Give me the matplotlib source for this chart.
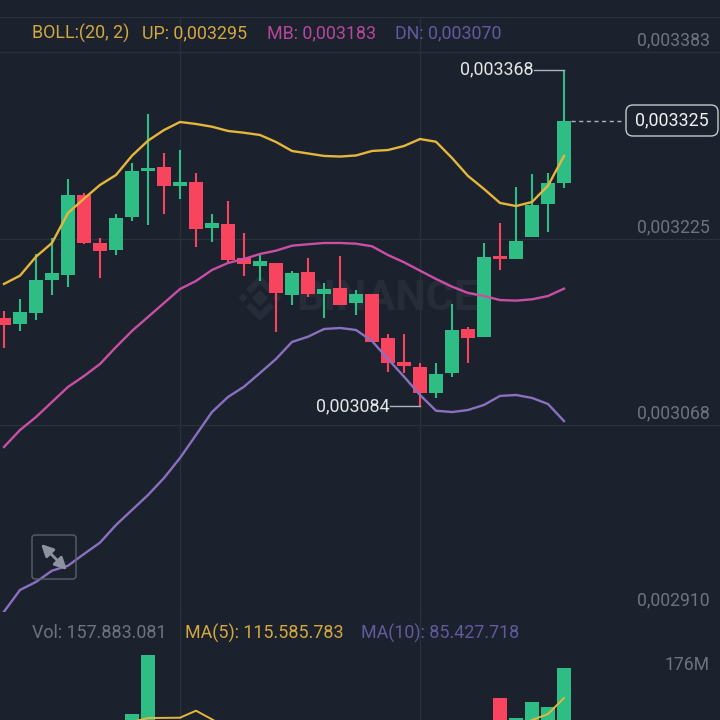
import matplotlib
matplotlib.use('Agg')
import matplotlib.pyplot as plt
from matplotlib.patches import FancyBboxPatch, Polygon
from matplotlib.transforms import Affine2D

plt.rcParams['font.family'] = ['Roboto', 'DejaVu Sans']

# Prices in millionths, one entry per candle
opens = [3158.1, 3153.3, 3162.8, 3190.4, 3194.7, 3262.5, 3221.4, 3215.8, 3243.6, 3282.5, 3285.9, 3269.8,
         3273.5, 3234.4, 3237.7, 3209.3, 3202.5, 3204.8, 3177.8, 3197.4, 3178.6, 3183.7, 3171.3, 3178.6,
         3141.4, 3121.2, 3117.2, 3095.0, 3112.1, 3149.0, 3142.5, 3210.7, 3208.4, 3226.7, 3254.6, 3272.6]
highs = [3164.2, 3174.4, 3212.4, 3225.9, 3275.7, 3263.9, 3225.9, 3246.2, 3289.2, 3330.6, 3297.7, 3300.2,
         3280.8, 3246.2, 3257.2, 3230.1, 3211.5, 3204.8, 3198.3, 3209.0, 3187.9, 3210.7, 3182.0, 3178.6,
         3144.8, 3144.8, 3120.3, 3120.3, 3170.2, 3150.7, 3221.7, 3238.8, 3269.0, 3280.0, 3281.1, 3368.0]
lows = [3133.0, 3147.4, 3156.6, 3177.8, 3184.5, 3220.8, 3192.4, 3211.5, 3240.5, 3236.9, 3246.4, 3258.8,
        3218.3, 3222.5, 3205.0, 3193.8, 3189.6, 3146.8, 3169.3, 3176.3, 3158.6, 3169.3, 3160.9, 3138.3,
        3113.0, 3112.1, 3084.0, 3091.0, 3108.8, 3120.3, 3142.5, 3198.9, 3208.4, 3226.7, 3231.2, 3268.1]
closes = [3152.4, 3163.4, 3190.4, 3196.3, 3262.5, 3221.4, 3215.2, 3242.8, 3282.5, 3285.0, 3269.8, 3273.5,
          3233.5, 3238.6, 3207.3, 3204.0, 3206.5, 3179.5, 3196.3, 3178.6, 3183.1, 3169.3, 3178.6, 3138.3,
          3120.3, 3118.1, 3095.2, 3111.0, 3148.2, 3141.4, 3210.1, 3208.2, 3223.4, 3253.8, 3272.6, 3325.0]

boll_up = [3187.1, 3194.1, 3210.1, 3221.7, 3247.0, 3259.1, 3270.7, 3279.1, 3295.4, 3308.1, 3317.1, 3323.9,
           3322.2, 3319.9, 3316.3, 3314.8, 3312.9, 3307.0, 3299.4, 3297.3, 3295.2, 3294.7, 3295.6, 3299.4,
           3300.2, 3303.6, 3309.5, 3307.2, 3293.5, 3278.3, 3267.3, 3255.5, 3252.9, 3256.3, 3270.1, 3295.2]
boll_mb = [3049.4, 3063.7, 3074.7, 3087.4, 3100.1, 3109.3, 3119.5, 3133.8, 3147.4, 3159.2, 3171.0, 3182.8,
           3189.6, 3198.9, 3204.8, 3208.2, 3212.4, 3215.2, 3219.4, 3220.6, 3221.7, 3221.7, 3221.1, 3218.9,
           3211.5, 3205.4, 3198.3, 3191.3, 3184.8, 3179.5, 3176.9, 3173.5, 3173.0, 3174.1, 3176.9, 3183.1]
boll_dn = [2910.3, 2928.6, 2935.4, 2944.9, 2949.1, 2959.0, 2968.6, 2983.5, 2996.2, 3008.8, 3023.2, 3040.1,
           3059.5, 3078.9, 3091.6, 3100.3, 3111.9, 3123.7, 3138.1, 3142.5, 3149.0, 3149.9, 3148.2, 3138.9,
           3123.7, 3108.8, 3093.3, 3080.0, 3078.9, 3080.6, 3084.9, 3092.5, 3093.3, 3090.8, 3085.7, 3071.3]

# Only the volume bars that reach into the visible strip (millions)
vol_idx = [8, 9, 31, 32, 33, 34, 35]
vol_vals = [93.0, 176.2, 115.2, 87.8, 109.5, 102.5, 157.9]
ma5_left_idx = [8, 9, 10, 11, 12, 13, 14]
ma5_left = [82.0, 87.4, 87.6, 87.8, 97.7, 85.5, 73.0]
ma5_right_idx = [32, 33, 34, 35]
ma5_right = [73.5, 84.6, 93.0, 115.6]

price_ticks = [3383, 3225.3, 3067.7, 2910]
price_tick_labels = ['0,003383', '0,003225', '0,003068', '0,002910']
grid_idx = [11, 26]

BG = '#1b222d'
GRID = '#2a313c'
GREEN = '#2ebd85'
RED = '#f9445f'
YELLOW = '#e6b63c'
PINK = '#c94fa5'
PURPLE = '#8a70c0'
GREY = '#6d7480'

fig = plt.figure(figsize=(7.2, 7.2), dpi=100, facecolor=BG)
# transform for things placed by screen position (y going down)
px = Affine2D().scale(1 / 720, -1 / 720).translate(0, 1) + fig.transFigure


def put_text(x, y, s, color, size=12.9, ha='left'):
    fig.text(x / 720, 1 - y / 720, s, color=color, fontsize=size, ha=ha, va='center')


# Main candle panel
ax = fig.add_axes([0, 108 / 720, 1, 595 / 720], facecolor=BG)
ax.set_xlim(-0.25, 44.75)
ax.set_ylim(2910, 3383 + 35 * 0.8446)
ax.set_xticks(grid_idx)
ax.set_yticks(price_ticks)
ax.tick_params(length=0, labelbottom=False, labelleft=False)
ax.grid(True, color=GRID, linewidth=1)
ax.set_axisbelow(True)
for side in ['left', 'right']:
    ax.spines[side].set_visible(False)
for side in ['top', 'bottom']:
    ax.spines[side].set_color(GRID)

# Watermark
WM = '#272d38'
cx, cy = 260, 298
logo = [
    [(0, -8), (8, 0), (0, 8), (-8, 0)],
    [(-17, -4.5), (-12.5, 0), (-17, 4.5), (-21.5, 0)],
    [(17, -4.5), (21.5, 0), (17, 4.5), (12.5, 0)],
    [(0, -23), (14, -9), (9.5, -4.5), (0, -14), (-9.5, -4.5), (-14, -9)],
    [(0, 23), (14, 9), (9.5, 4.5), (0, 14), (-9.5, 4.5), (-14, 9)],
]
for shape in logo:
    ax.add_patch(Polygon([(cx + a, cy + b) for a, b in shape], closed=True, facecolor=WM,
                         edgecolor='none', transform=px, zorder=0.5))
ax.text(296, 299, 'BINANCE', color=WM, fontsize=31, fontweight='bold', ha='left', va='center',
        transform=px, zorder=0.5)

# Candles
for i in range(len(opens)):
    color = GREEN if closes[i] >= opens[i] else RED
    ax.vlines(i, lows[i], highs[i], color=color, linewidth=1.5, zorder=2)
    ax.bar(i, abs(closes[i] - opens[i]), bottom=min(opens[i], closes[i]), width=0.88, color=color, zorder=2)

idx = list(range(len(boll_up)))
ax.plot(idx, boll_up, color=YELLOW, linewidth=1.7, zorder=3)
ax.plot(idx, boll_mb, color=PINK, linewidth=1.7, zorder=3)
ax.plot(idx, boll_dn, color=PURPLE, linewidth=1.7, zorder=3)

# High / low callouts
LEADER = '#aeb4ba'
ax.plot([33.125, 35], [3368, 3368], color=LEADER, linewidth=1, zorder=4)
ax.text(33.1, 3368, '0,003368', color='#e4e6e8', fontsize=12.9, ha='right', va='center', zorder=5)
ax.plot([24.125, 26], [3084, 3084], color=LEADER, linewidth=1, zorder=4)
ax.text(24.1, 3084, '0,003084', color='#e4e6e8', fontsize=12.9, ha='right', va='center', zorder=5)
ax.plot([35.45, 38.6], [3325, 3325], color=LEADER, linewidth=1, linestyle=(0, (3, 2.5)), zorder=4)

# Current price pill
ax.add_patch(FancyBboxPatch((633, 112), 78, 17, boxstyle='round,pad=7', facecolor=BG, edgecolor='#c4c8cc',
                            linewidth=1, transform=px, zorder=4, clip_on=False))
put_text(672, 120.5, '0,003325', '#eef0f2', size=12.9, ha='center')

# Expand icon
ax.add_patch(FancyBboxPatch((35, 538), 38, 38, boxstyle='round,pad=3', facecolor='none', edgecolor='#59606b',
                            linewidth=1, transform=px, zorder=4))
ax.annotate('', xy=(41, 544), xytext=(67, 570), xycoords=px, textcoords=px, zorder=4,
            arrowprops=dict(arrowstyle='<|-|>', color='#8d93a0', linewidth=2, mutation_scale=18,
                            shrinkA=0, shrinkB=0))

# Volume panel
vax = fig.add_axes([0, 0, 1, 108 / 720], facecolor=BG)
vax.set_xlim(-0.25, 44.75)
vax.set_ylim(84.6, 236.8)
vax.set_xticks(grid_idx)
vax.set_yticks([])
vax.tick_params(length=0, labelbottom=False)
vax.grid(True, axis='x', color=GRID, linewidth=1)
vax.set_axisbelow(True)
for side in vax.spines:
    vax.spines[side].set_visible(False)
vol_colors = [GREEN, GREEN, RED, GREEN, GREEN, GREEN, GREEN]
vax.bar(vol_idx, vol_vals, width=0.88, color=vol_colors, zorder=2)
vax.plot(ma5_left_idx, ma5_left, color=YELLOW, linewidth=1.4, zorder=3)
vax.plot(ma5_right_idx, ma5_right, color=YELLOW, linewidth=1.4, zorder=3)

# Legend rows
put_text(32, 33.5, 'BOLL:(20, 2)', '#d3a83f')
put_text(142, 33.5, 'UP: 0,003295', '#d3a83f')
put_text(267, 33.5, 'MB: 0,003183', '#b8479b')
put_text(395, 33.5, 'DN: 0,003070', '#62599f')
put_text(32, 633.5, 'Vol: 157.883.081', GREY)
put_text(185, 633.5, 'MA(5): 115.585.783', '#d3a83f')
put_text(361, 633.5, 'MA(10): 85.427.718', '#62599f')

# Right hand price scale
for tick_y, label in zip([40, 227, 413, 600], price_tick_labels):
    put_text(710, tick_y, label, GREY, size=12.7, ha='right')
put_text(710, 665, '176M', GREY, size=12.7, ha='right')

plt.savefig('out.png', dpi=100)
